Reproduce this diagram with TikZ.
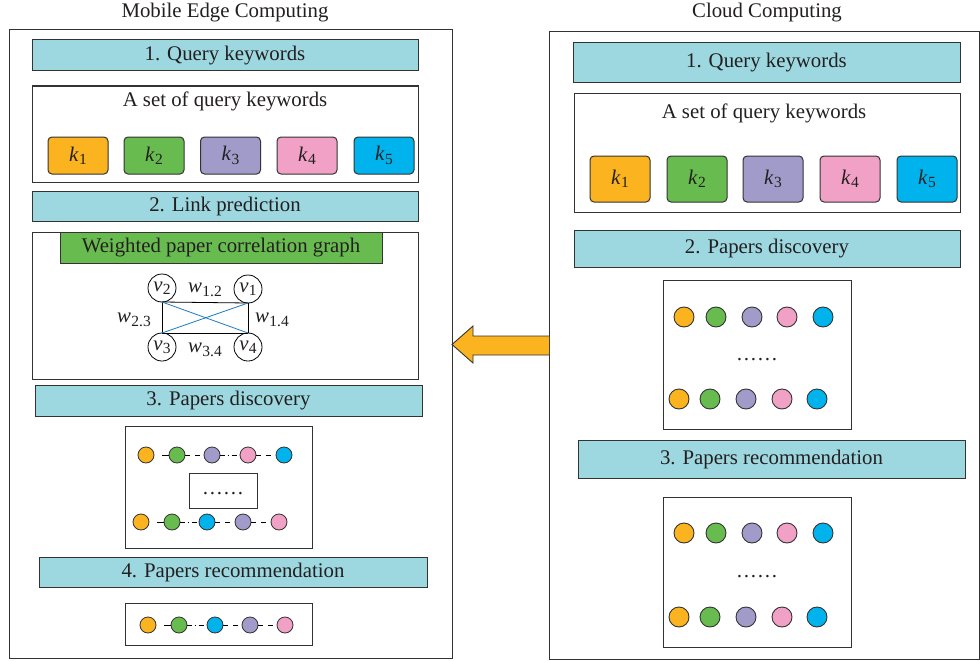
\documentclass[tikz,border=0pt]{standalone}
\usepackage{fontspec}
\setmainfont{Liberation Serif}
\definecolor{barblue}{HTML}{9DD8E0}
\definecolor{korange}{HTML}{FBB31F}
\definecolor{kgreen}{HTML}{68BC4F}
\definecolor{kpurple}{HTML}{A09BC9}
\definecolor{kpink}{HTML}{F0A1C5}
\definecolor{kblue}{HTML}{00B3EC}
\definecolor{linec}{HTML}{333333}
\definecolor{diagblue}{HTML}{1B7CC3}
\definecolor{txt}{HTML}{231F20}
\newcommand\mysub[2]{\textit{#1}\kern0.3pt\raisebox{-0.35ex}{\fontsize{15.5}{15.5}\selectfont #2}}
\begin{document}
\begin{tikzpicture}[x=1pt,y=-1pt,
  font=\fontsize{20.8}{24}\selectfont, text=txt,
  every node/.style={inner sep=0pt, outer sep=0pt},
  box/.style={draw=linec, line width=1pt, rectangle},
  bar/.style={box, fill=barblue},
  panel/.style={box, fill=white},
  kbox/.style={draw=linec, line width=1pt, rounded corners=4pt, minimum width=60pt},
  vnode/.style={draw=black, line width=0.8pt, circle, minimum size=28pt, fill=white},
  sdot/.style={draw=linec, line width=0.8pt, circle, minimum size=16pt},
  bdot/.style={draw=linec, line width=0.9pt, circle, minimum size=20pt},
  dashA/.style={draw=black, line width=0.8pt, dash pattern=on 0pt off 8pt on 7pt},
  dashB/.style={draw=black, line width=0.8pt, dash pattern=on 5pt off 5pt on 5pt},
  dashC/.style={draw=black, line width=0.8pt, dash pattern=on 5pt off 2.5pt on 1.5pt off 2.5pt on 5pt},
  edge/.style={draw=black, line width=0.8pt},
  dedge/.style={draw=diagblue, line width=0.8pt},
  ell/.style={anchor=base}
]
\useasboundingbox (0,0) rectangle (980,661);
\fill[white] (0,0) rectangle (980,661);

% ---------------- Left: Mobile Edge Computing ----------------
\node[box, minimum width=443pt, minimum height=628pt] (lout) at (230.5,344) {};
\node (ltitle) at (225,13) {Mobile Edge Computing};
\node[bar, minimum width=386pt, minimum height=31pt] (lb1) at (225,55.5) {1. Query keywords};
\node[panel, minimum width=386pt, minimum height=96pt] (lkp) at (225,134) {};
\node (lkt) at (225,101) {A set of query keywords};
\node[kbox, fill=korange, minimum height=37pt] (lk1) at (78,155.5) {\mysub{k}{1}};
\node[kbox, fill=kgreen, minimum height=37pt] (lk2) at (154,155.5) {\mysub{k}{2}};
\node[kbox, fill=kpurple, minimum height=37pt] (lk3) at (230.5,155.5) {\mysub{k}{3}};
\node[kbox, fill=kpink, minimum height=37pt] (lk4) at (307,155.5) {\mysub{k}{4}};
\node[kbox, fill=kblue, minimum height=37pt] (lk5) at (384,155.5) {\mysub{k}{5}};
\node[bar, minimum width=386pt, minimum height=30pt] (lb2) at (225,206) {2. Link prediction};
\node[panel, minimum width=386pt, minimum height=147pt] (lgp) at (225,305.5) {};
\node[box, fill=kgreen, minimum width=322pt, minimum height=31pt] (lgh) at (221,247.5) {Weighted paper correlation graph};
\node[vnode] (v2) at (162,288) {\mysub{v}{2}};
\node[vnode] (v1) at (248,289) {\mysub{v}{1}};
\node[vnode] (v3) at (162,347) {\mysub{v}{3}};
\node[vnode] (v4) at (248,347) {\mysub{v}{4}};
\draw[edge] (v2.south) -- (v1.south);
\draw[edge] (v2.south) -- (v3.north);
\draw[edge] (v3.north) -- (v4.north);
\draw[edge] (v1.south) -- (v4.north);
\draw[dedge] (v2.south) -- (v4.north);
\draw[dedge] (v3.north) -- (v1.south);
\node (w12) at (205,290) {\mysub{w}{1.2}};
\node (w23) at (134,320) {\mysub{w}{2.3}};
\node (w14) at (272,320) {\mysub{w}{1.4}};
\node (w34) at (205,350) {\mysub{w}{3.4}};
\node[bar, minimum width=387pt, minimum height=31pt] (lb3) at (228.5,400.5) {3. Papers discovery};
\node[panel, minimum width=187pt, minimum height=122pt] (ldp) at (218.5,487) {};
\node[sdot, fill=korange] (a1) at (146,455) {};
\node[sdot, fill=kgreen] (a2) at (177,455) {};
\node[sdot, fill=kpurple] (a3) at (212,455) {};
\node[sdot, fill=kpink] (a4) at (248,455) {};
\node[sdot, fill=kblue] (a5) at (284,455) {};
\path[dashA] (a1.east) -- (a2.west);
\path[dashB] (a2.east) -- (a3.west);
\path[dashC] (a3.east) -- (a4.west);
\path[dashB] (a4.east) -- (a5.west);
\node[box, minimum width=68pt, minimum height=35pt] (lell) at (223,490.5) {};
\node[ell] (lellt) at (223,494.5) {\dots\dots};
\node[sdot, fill=korange] (b1) at (141,522) {};
\node[sdot, fill=kgreen] (b2) at (172,522) {};
\node[sdot, fill=kblue] (b3) at (207,522) {};
\node[sdot, fill=kpurple] (b4) at (243,522) {};
\node[sdot, fill=kpink] (b5) at (279,522) {};
\path[dashA] (b1.east) -- (b2.west);
\path[dashC] (b2.east) -- (b3.west);
\path[dashB] (b3.east) -- (b4.west);
\path[dashB] (b4.east) -- (b5.west);
\node[bar, minimum width=388pt, minimum height=30pt] (lb4) at (233,572) {4. Papers recommendation};
\node[panel, minimum width=187pt, minimum height=42pt] (lrp) at (218.5,624) {};
\node[sdot, fill=korange] (c1) at (148,625) {};
\node[sdot, fill=kgreen] (c2) at (179,625) {};
\node[sdot, fill=kblue] (c3) at (215,625) {};
\node[sdot, fill=kpurple] (c4) at (250,625) {};
\node[sdot, fill=kpink] (c5) at (285,625) {};
\path[dashA] (c1.east) -- (c2.west);
\path[dashC] (c2.east) -- (c3.west);
\path[dashB] (c3.east) -- (c4.west);
\path[dashB] (c4.east) -- (c5.west);

% ---------------- Right: Cloud Computing ----------------
\node[box, minimum width=430pt, minimum height=627pt] (rout) at (764,345.5) {};
\node (rtitle) at (767,13) {Cloud Computing};
\node[bar, minimum width=387pt, minimum height=40pt] (rb1) at (766.5,63) {1. Query keywords};
\node[panel, minimum width=386pt, minimum height=119pt] (rkp) at (767,152.5) {};
\node (rkt) at (764,113) {A set of query keywords};
\node[kbox, fill=korange, minimum height=46pt] (rk1) at (620,179) {\mysub{k}{1}};
\node[kbox, fill=kgreen, minimum height=46pt] (rk2) at (697,179) {\mysub{k}{2}};
\node[kbox, fill=kpurple, minimum height=46pt] (rk3) at (773,179) {\mysub{k}{3}};
\node[kbox, fill=kpink, minimum height=46pt] (rk4) at (850,179) {\mysub{k}{4}};
\node[kbox, fill=kblue, minimum height=46pt] (rk5) at (927,179) {\mysub{k}{5}};
\node[bar, minimum width=386pt, minimum height=37pt] (rb2) at (767,248.5) {2. Papers discovery};
\node[panel, minimum width=188pt, minimum height=149pt] (rdp) at (757,354.5) {};
\node[bdot, fill=korange] (d1) at (684,317) {};
\node[bdot, fill=kgreen] (d2) at (716,317) {};
\node[bdot, fill=kpurple] (d3) at (752,317) {};
\node[bdot, fill=kpink] (d4) at (787,317) {};
\node[bdot, fill=kblue] (d5) at (823,317) {};
\node[ell] (rde) at (757,360) {\dots\dots};
\node[bdot, fill=korange] (e1) at (679,399) {};
\node[bdot, fill=kgreen] (e2) at (710,399) {};
\node[bdot, fill=kpurple] (e3) at (746,399) {};
\node[bdot, fill=kpink] (e4) at (782,399) {};
\node[bdot, fill=kblue] (e5) at (817,399) {};
\node[bar, minimum width=387pt, minimum height=38pt] (rb3) at (771.5,459) {3. Papers recommendation};
\node[panel, minimum width=188pt, minimum height=150pt] (rrp) at (757,572) {};
\node[bdot, fill=korange] (f1) at (684,533) {};
\node[bdot, fill=kgreen] (f2) at (716,533) {};
\node[bdot, fill=kpurple] (f3) at (752,533) {};
\node[bdot, fill=kpink] (f4) at (787,533) {};
\node[bdot, fill=kblue] (f5) at (823,533) {};
\node[ell] (rre) at (757,577) {\dots\dots};
\node[bdot, fill=korange] (g1) at (679,617) {};
\node[bdot, fill=kgreen] (g2) at (710,617) {};
\node[bdot, fill=kpurple] (g3) at (746,617) {};
\node[bdot, fill=kpink] (g4) at (782,617) {};
\node[bdot, fill=kblue] (g5) at (817,617) {};

% ---------------- Arrow ----------------
\draw[draw=linec, line width=0.9pt, fill=korange, line join=miter]
  (549,336) -- (473,336) -- (473,326) -- (452,344.5) -- (473,363) -- (473,355) -- (549,355);
\end{tikzpicture}
\end{document}
